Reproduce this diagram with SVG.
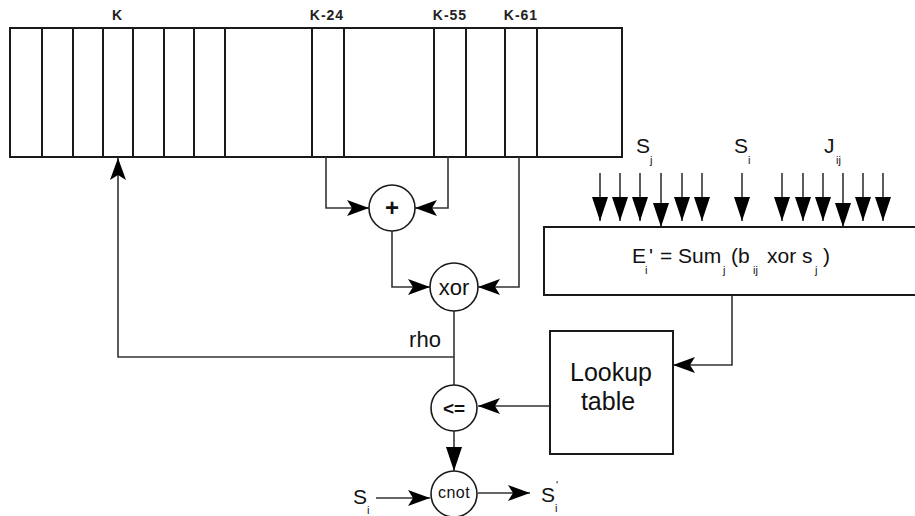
<svg xmlns="http://www.w3.org/2000/svg" width="915" height="516" viewBox="0 0 915 516">
<style>
.box{fill:#fff;stroke:#1a1a1a;stroke-width:2}
.cell{fill:none;stroke:#1a1a1a;stroke-width:2}
.node{fill:#fff;stroke:#1a1a1a;stroke-width:1.6}
.wire{fill:none;stroke:#333;stroke-width:1.6}
.lbl{font-family:"Liberation Sans",Arial,sans-serif;fill:#111}
.klbl{font-family:"Liberation Sans",Arial,sans-serif;font-weight:bold;font-size:14px;fill:#222;text-anchor:middle}
.sub{font-family:"Liberation Sans",Arial,sans-serif;font-size:11px;fill:#111}
</style>
<defs>
<marker id="arr" markerUnits="userSpaceOnUse" markerWidth="22" markerHeight="16" refX="22" refY="8" orient="auto">
<path d="M0,0 L22,8 L0,16 L5,8 z" fill="#000"/>
</marker>
<marker id="tri" markerUnits="userSpaceOnUse" markerWidth="24" markerHeight="16" refX="24" refY="8" orient="auto">
<path d="M0,0 L24,8 L0,16 z" fill="#000"/>
</marker>
</defs>

<g id="register">
<rect class="box" x="10" y="28" width="612" height="129"/>
<path class="cell" d="M42,28V157M73,28V157M103,28V157M133,28V157M164,28V157M194,28V157M225,28V157"/>
<rect class="cell" x="312" y="28" width="32" height="129"/>
<rect class="cell" x="434" y="28" width="32" height="129"/>
<rect class="cell" x="505" y="28" width="32" height="129"/>
<text class="klbl" x="117" y="20">K</text>
<text class="klbl" x="327" y="20" letter-spacing="1">K-24</text>
<text class="klbl" x="450" y="20" letter-spacing="1">K-55</text>
<text class="klbl" x="521" y="20" letter-spacing="1">K-61</text>
</g>

<g id="connectors">
<path class="wire" d="M326,157V208H369" marker-end="url(#arr)"/>
<path class="wire" d="M448,157V208H415" marker-end="url(#arr)"/>
<path class="wire" d="M392,231V287H430" marker-end="url(#arr)"/>
<path class="wire" d="M519,157V287H478" marker-end="url(#arr)"/>
<path class="wire" d="M454,311V385"/>
<path class="wire" d="M454,357H118V158" marker-end="url(#arr)"/>
<path class="wire" d="M550,406H478" marker-end="url(#arr)"/>
<path class="wire" d="M454,431V471" marker-end="url(#tri)"/>
<path class="wire" d="M376,498H430" marker-end="url(#arr)"/>
<path class="wire" d="M478,493H530" marker-end="url(#arr)"/>
<path class="wire" d="M732,295V365H673" marker-end="url(#arr)"/>
<g id="inputs">
<path class="wire" d="M600,173V221" marker-end="url(#tri)"/>
<path class="wire" d="M620,173V221" marker-end="url(#tri)"/>
<path class="wire" d="M640,173V221" marker-end="url(#tri)"/>
<path class="wire" d="M661,173V227" marker-end="url(#tri)"/>
<path class="wire" d="M682,173V221" marker-end="url(#tri)"/>
<path class="wire" d="M702,173V221" marker-end="url(#tri)"/>
<path class="wire" d="M742,173V221" marker-end="url(#tri)"/>
<path class="wire" d="M782,173V221" marker-end="url(#tri)"/>
<path class="wire" d="M803,173V221" marker-end="url(#tri)"/>
<path class="wire" d="M823,173V221" marker-end="url(#tri)"/>
<path class="wire" d="M843,173V227" marker-end="url(#tri)"/>
<path class="wire" d="M863,173V221" marker-end="url(#tri)"/>
<path class="wire" d="M883,173V221" marker-end="url(#tri)"/>
</g>
<text class="lbl" x="425" y="347" font-size="22" text-anchor="middle">rho</text>
</g>

<g id="plus">
<circle class="node" cx="392" cy="208" r="23"/>
<text class="lbl" x="392" y="216" font-size="24" font-weight="bold" text-anchor="middle">+</text>
</g>
<g id="xor">
<circle class="node" cx="454" cy="287" r="24"/>
<text class="lbl" x="454" y="295" font-size="22" text-anchor="middle">xor</text>
</g>
<g id="le">
<circle class="node" cx="454" cy="408" r="23"/>
<text class="lbl" x="454" y="415" font-size="19" font-weight="bold" text-anchor="middle">&lt;=</text>
</g>
<g id="cnot">
<circle class="node" cx="454" cy="494" r="23"/>
<text class="lbl" x="454" y="498" font-size="16" text-anchor="middle" letter-spacing="0.5">cnot</text>
</g>

<g id="energy">
<rect class="box" x="544" y="227" width="380" height="68"/>
<text class="lbl" y="263" font-size="21"><tspan x="632">E</tspan><tspan x="649">'</tspan><tspan x="660">= Sum</tspan><tspan x="731">(b</tspan><tspan x="767">xor s</tspan><tspan x="823">)</tspan></text>
<text class="sub"><tspan x="645" y="274">i</tspan><tspan x="723" y="274">j</tspan><tspan x="753" y="274">ij</tspan><tspan x="815" y="274">j</tspan></text>
</g>

<g id="lookup">
<rect class="box" x="550" y="331" width="123" height="123"/>
<text class="lbl" x="611" y="381" font-size="25" text-anchor="middle">Lookup</text>
<text class="lbl" x="608" y="410" font-size="25" text-anchor="middle">table</text>
</g>

<g id="input-labels">
<text class="lbl" x="636" y="153" font-size="21">S</text>
<text class="sub" x="650" y="164">j</text>
<text class="lbl" x="734" y="153" font-size="21">S</text>
<text class="sub" x="748" y="164">i</text>
<text class="lbl" x="824" y="153" font-size="21">J</text>
<text class="sub" x="836" y="164">ij</text>
</g>

<g id="io-labels">
<text class="lbl" x="353" y="504" font-size="21">S</text>
<text class="sub" x="367" y="514">i</text>
<text class="lbl" x="541" y="502" font-size="21">S</text>
<text class="sub" x="555" y="512">i</text>
<text class="sub" x="556" y="489">'</text>
</g>
</svg>
